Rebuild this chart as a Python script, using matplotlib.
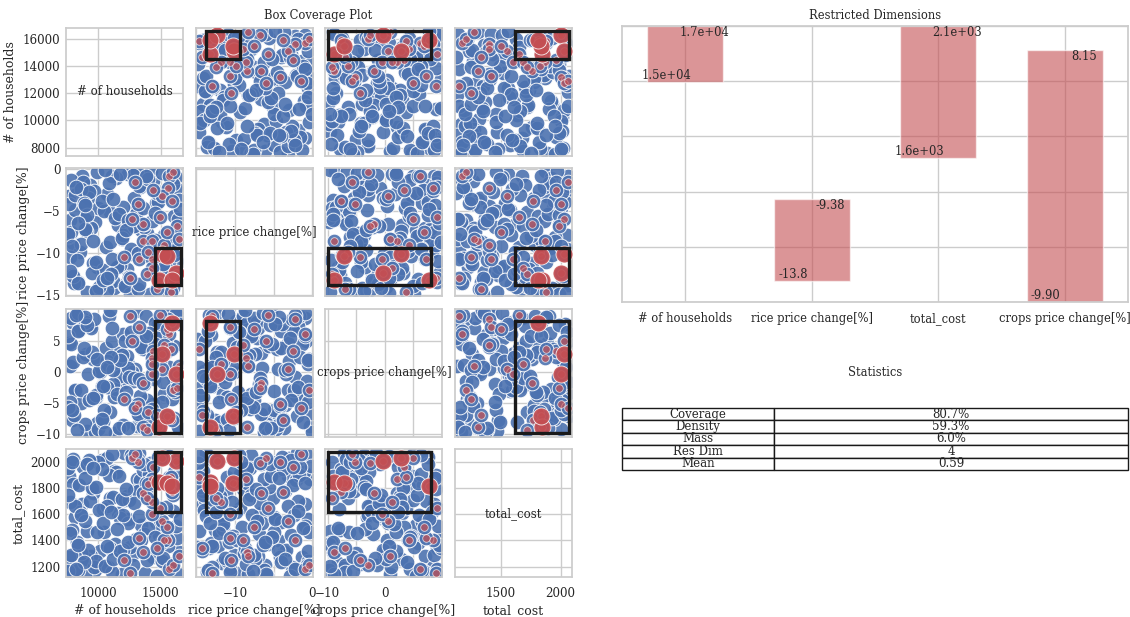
import matplotlib
matplotlib.use("Agg")
import matplotlib.pyplot as plt
import seaborn as sns
import numpy as np
from matplotlib.patches import Rectangle
from matplotlib.gridspec import GridSpec

sns.set_theme(style="whitegrid", palette="deep")
plt.rcParams["font.family"] = ["DejaVu Serif"]
plt.rcParams["font.size"] = 8

# ---------------------------------------------------------------- data
dims = ["# of households", "rice price change[%]",
        "crops price change[%]", "total_cost"]

# cases outside the region of interest
base_households = [
    7620, 9850, 12410, 15230, 8340, 10960, 13780, 16210, 9120, 11590,
    14350, 7980, 10270, 12950, 15810, 8710, 11240, 13460, 16480, 9530,
    12070, 14890, 7750, 10580, 13120, 15560, 8160, 11890, 14120, 9290,
    12680, 16050, 7890, 10730, 13940, 8520, 11410, 15020, 9710, 12260,
    14660, 7560, 10120, 13310, 16330, 8890, 11060, 14470, 9380, 12830,
    15390, 8050, 10840, 13650, 7710, 9960, 12540, 15940, 8430, 11720,
    14230, 9040, 10390, 13020, 16150, 7830, 11150, 14780, 8610, 12370,
    15670, 9620, 10670, 13550, 8260, 11970, 15100, 7940, 10460, 13860,
    9180, 12150, 16390, 8780, 11510, 14550, 7680, 10010, 13240, 15450,
    8950, 12740, 9450, 11320, 14030, 8120, 10800, 13700, 16260, 9790,
    7600, 12010, 15700, 8580, 11080, 14310, 9880, 12460, 7790, 10320,
    13410, 16010, 8380, 11630, 14940, 9250, 10910, 13150, 8820, 12890,
    7700, 9100, 10500, 11900, 13300, 14700, 16100, 8400, 9800, 11200,
    12600, 14000, 15400, 7550, 8950, 10350, 11750, 13150, 14550, 15950,
    8200, 9600, 11000, 12400, 13800, 15200, 16550, 7900, 10700, 12200,
]
base_rice = [
    -3.2, -11.7, -0.6, -7.9, -13.4, -5.1, -9.8, -2.3, -14.6, -6.7,
    -1.4, -8.8, -12.9, -4.4, -10.6, -0.9, -14.1, -7.2, -3.7, -11.2,
    -13.8, -2.8, -6.1, -9.3, -0.3, -12.2, -4.9, -8.3, -14.8, -1.9,
    -10.1, -5.6, -12.6, -3.0, -7.6, -9.9, -1.1, -13.1, -6.3, -11.9,
    -4.1, -8.1, -14.3, -2.1, -10.9, -5.9, -0.8, -12.4, -7.0, -3.5,
    -9.1, -13.6, -1.7, -6.9, -10.4, -4.7, -14.9, -8.6, -2.5, -11.4,
    -0.2, -7.4, -12.0, -5.3, -9.6, -1.3, -13.3, -3.9, -8.9, -6.5,
    -11.0, -2.6, -14.4, -4.6, -10.8, -7.8, -0.5, -12.7, -5.0, -9.0,
    -3.4, -13.9, -6.0, -1.6, -11.6, -8.4, -4.2, -14.0, -2.0, -10.3,
    -7.1, -0.7, -12.3, -5.8, -9.4, -3.1, -13.0, -6.6, -1.0, -11.1,
    -8.0, -4.5, -14.7, -2.4, -10.7, -6.2, -0.4, -12.8, -7.5, -3.8,
    -9.7, -1.8, -13.5, -5.4, -11.5, -2.7, -8.7, -14.2, -4.0, -6.8,
    -12.1, -5.5, -0.1, -8.2, -13.7, -2.9, -10.2, -6.4, -14.5, -3.6,
    -9.5, -1.2, -11.8, -7.7, -4.3, -13.2, -0.6, -10.0, -5.2, -14.1,
    -2.2, -8.5, -12.5, -6.1, -0.9, -11.3, -4.8, -9.2, -13.0, -7.3,
]
base_crops = [
    4.7, -8.2, 1.3, -3.6, 9.1, -6.4, 6.2, -0.9, -9.5, 3.0,
    -5.1, 7.8, -2.2, 0.4, -7.3, 8.6, -4.0, 5.5, -9.0, 2.1,
    -1.6, 6.9, -6.9, 3.8, -8.7, 9.6, -3.1, 0.9, -5.7, 7.3,
    -0.1, 4.2, -7.8, 1.8, -4.6, 8.2, -2.7, 5.9, -9.7, 2.6,
    6.5, -6.0, 0.0, -3.9, 9.3, -8.4, 4.9, -1.2, 7.0, -5.3,
    3.4, -7.0, 8.9, -2.0, 1.0, -9.2, 5.2, -4.3, 6.7, -0.6,
    -6.6, 2.9, -8.0, 9.8, -3.3, 4.4, -1.9, 7.6, -5.0, 0.6,
    -7.5, 8.4, -2.5, 3.6, -9.4, 6.0, -4.8, 1.5, -6.2, 9.0,
    -0.3, 5.0, -8.9, 2.3, -3.5, 7.9, -5.5, 0.2, -7.1, 4.6,
    8.0, -1.4, 3.2, -9.8, 6.3, -2.9, 1.1, -6.7, 9.4, -4.1,
    5.7, -8.5, 0.7, -3.0, 7.1, -5.9, 2.0, -0.8, 8.7, -7.6,
    4.0, -2.4, 6.6, -9.1, 1.7, -4.5, 9.9, -6.3, 3.9, -1.0,
    -4.9, 7.5, -9.6, 2.7, -1.1, 5.4, -7.4, 9.5, -3.7, 0.3,
    6.4, -8.1, 3.1, -5.6, 8.8, -2.3, 1.9, -6.8, 4.5, -0.7,
    9.2, -4.2, 2.4, -9.0, 5.8, -1.7, 7.7, -6.1, 0.8, -3.2,
]
base_cost = [
    1890, 1230, 1560, 2050, 1340, 1720, 1150, 1980, 1470, 1610,
    1270, 1830, 2010, 1400, 1190, 1680, 1930, 1520, 1310, 1760,
    2065, 1440, 1210, 1650, 1870, 1360, 1580, 1140, 1990, 1700,
    1290, 1810, 1480, 2030, 1250, 1620, 1920, 1380, 1170, 1740,
    1540, 1950, 1320, 1860, 1420, 1135, 2060, 1600, 1280, 1780,
    1500, 1160, 1900, 1450, 1690, 2000, 1350, 1220, 1820, 1570,
    1970, 1260, 1640, 1410, 1850, 1180, 1730, 2040, 1300, 1530,
    1880, 1200, 1660, 1940, 1390, 1590, 1240, 2020, 1460, 1790,
    1330, 1710, 1145, 1960, 1490, 1840, 1270, 1630, 2070, 1430,
    1550, 1215, 1800, 1370, 1910, 1665, 1195, 1985, 1510, 1245,
    1750, 1325, 2045, 1595, 1155, 1865, 1465, 1705, 1285, 1945,
    1405, 1625, 1175, 1895, 1525, 2015, 1345, 1775, 1235, 1685,
    1455, 1985, 1205, 1715, 1585, 1130, 1925, 1365, 1805, 1255,
    2055, 1495, 1655, 1165, 1875, 1535, 1315, 2025, 1425, 1745,
    1185, 1955, 1615, 1385, 1835, 1265, 1565, 2000, 1355, 1795,
]

# cases of interest
hit_households = [
    15670, 16020, 15620, 15080, 15940, 14410, 13200, 14920, 13600, 12720,
    13610, 14280, 12050, 13260, 14330, 15290, 14010, 14290, 12500, 16300,
    15500, 13900, 16500, 12900, 15850, 14700,
    16270, 15130, 14880, 15510, 15890,
]
hit_rice = [
    -0.9, -0.4, -2.3, -3.2, -3.8, -2.5, -4.2, -5.7, -6.6, -6.0,
    -8.5, -8.6, -10.5, -10.7, -10.7, -9.0, -9.9, -11.8, -13.0, -6.8,
    -7.5, -12.5, -8.3, -1.5, -14.6, -14.3,
    -12.3, -10.1, -13.2, -10.3, -13.2,
]
hit_crops = [
    6.1, -3.0, 8.4, 0.5, -7.7, 3.3, -5.2, 9.2, -1.8, 5.0,
    -8.8, 2.2, -4.4, 7.2, -0.4, 4.3, -6.5, 1.2, 8.9, -2.6,
    6.8, -9.3, 0.9, -5.8, 3.7, -7.0,
    -0.3, 2.9, -8.9, -7.1, 7.8,
]
hit_cost = [
    1180, 1210, 1400, 1550, 1770, 1960, 2000, 1650, 1760, 2030,
    1310, 1870, 1250, 1420, 1600, 1400, 1830, 1690, 1150, 1990,
    1500, 1720, 1280, 2060, 1880, 1340,
    2005, 2028, 1842, 1840, 1815,
]

# box limits per dimension (lower, upper)
box_lower = [14520, -13.8, -9.9, 1620]
box_upper = [16600, -9.38, 8.15, 2074]

# bar chart: dimension order and normalisation ranges
bar_dims = ["# of households", "rice price change[%]", "total_cost",
            "crops price change[%]"]
bar_lower = [14520, -13.8, 1620, -9.9]
bar_upper = [16600, -9.38, 2074, 8.15]
range_lo = [6350, -14.95, 1124, -9.9]
range_hi = [16600, 0.0, 2074, 9.9]

stat_names = ["Coverage", "Density", "Mass", "Res Dim", "Mean"]
stat_values = ["80.7%", "59.3%", "6.0%", "4", "0.59"]

# ---------------------------------------------------------------- axes setup
limits = [(7400, 16800), (-15.1, 0.05), (-10.4, 10.1), (1120, 2095)]
y_ticks = [[8000, 10000, 12000, 14000, 16000], [-15, -10, -5, 0],
           [-10, -5, 0, 5], [1200, 1400, 1600, 1800, 2000]]
x_major = [[10000, 15000], [-10, 0], [-10, 0], [1500, 2000]]
x_minor = [[], [-15, -5], [-5, 5, 10], []]

blue = "#4C72B0"
red = "#C44E52"
text_col = "#262626"

base = np.array([base_households, base_rice, base_crops, base_cost], float)
hits = np.array([hit_households, hit_rice, hit_crops, hit_cost], float)
lo = np.array(box_lower)[:, None]
hi = np.array(box_upper)[:, None]
in_box = np.all((hits >= lo) & (hits <= hi), axis=0)
allpts = np.concatenate([base, hits], axis=1)

fig = plt.figure(figsize=(11.3, 6.17), dpi=100)
gs = GridSpec(4, 4, figure=fig, left=0.0584, right=0.5062, top=0.9546,
              bottom=0.0648, wspace=0.107, hspace=0.10)

for r in range(4):
    for c in range(4):
        ax = fig.add_subplot(gs[r, c])
        ax.set_xlim(limits[c])
        ax.set_ylim(limits[r])
        ax.set_xticks(x_major[c])
        ax.set_xticks(x_minor[c], minor=True)
        ax.set_yticks(y_ticks[r])
        ax.grid(True, which="both", color=".8", lw=1)
        ax.tick_params(which="both", length=0, labelsize=8.6)
        ax.tick_params(axis="x", pad=7)
        ax.tick_params(axis="y", pad=4)
        for s in ax.spines.values():
            s.set_color(".8")
        if r == c:
            ax.text(0.5, 0.5, dims[r], transform=ax.transAxes,
                    ha="center", va="center", fontsize=8.5, color=text_col)
        else:
            ax.scatter(allpts[c], allpts[r], s=112, color=blue, alpha=0.9,
                       edgecolor=(1, 1, 1, 0.6), linewidth=0.7, zorder=2)
            ax.scatter(hits[c], hits[r], s=30, color=red, alpha=0.7,
                       edgecolor=(1, 1, 1, 0.6), linewidth=0.6, zorder=3)
            ax.scatter(hits[c][in_box], hits[r][in_box], s=150, color=red,
                       alpha=0.92, edgecolor=(1, 1, 1, 0.6), linewidth=0.6,
                       zorder=4)
            ax.add_patch(Rectangle((box_lower[c], box_lower[r]),
                                   box_upper[c] - box_lower[c],
                                   box_upper[r] - box_lower[r],
                                   fill=False, edgecolor="0.1", lw=2.4,
                                   zorder=5))
        if c == 0:
            ax.set_ylabel(dims[r], fontsize=9, labelpad=4, color=text_col)
        else:
            ax.tick_params(axis="y", labelleft=False)
        if r == 3:
            ax.set_xlabel(dims[c], fontsize=9, labelpad=3, color=text_col)
        else:
            ax.tick_params(axis="x", labelbottom=False)

fig.text(318.5 / 1130, 1 - 15 / 617, "Box Coverage Plot", ha="center",
         va="center", fontsize=8.3, color=text_col)

# ---------------------------------------------------------------- bars
axb = fig.add_axes([622 / 1130, 1 - 302 / 617, 506 / 1130, 276 / 617])
xpos = np.arange(len(bar_dims))
lo_n = [(v - a) / (b - a) for v, a, b in zip(bar_lower, range_lo, range_hi)]
hi_n = [(v - a) / (b - a) for v, a, b in zip(bar_upper, range_lo, range_hi)]
axb.bar(xpos, np.array(hi_n) - np.array(lo_n), bottom=lo_n, width=0.6,
        color=red, alpha=0.6, zorder=2)


def fmt(v):
    return f"{v:#.2g}" if abs(v) >= 1000 else f"{v:#.3g}"


for x, vl, vu, nl, nu in zip(xpos, bar_lower, bar_upper, lo_n, hi_n):
    axb.text(x + 0.15, nu, fmt(vu), ha="center", va="top", fontsize=8.3,
             color=text_col, zorder=3)
    axb.text(x - 0.15, nl, fmt(vl), ha="center", va="bottom", fontsize=8.3,
             color=text_col, zorder=3)

axb.set_xlim(-0.5, 3.5)
axb.set_ylim(0, 1)
axb.set_xticks(xpos)
axb.set_xticklabels(bar_dims, fontsize=8.3, color=text_col)
axb.set_yticks([0, 0.2, 0.4, 0.6, 0.8, 1.0])
axb.tick_params(axis="y", labelleft=False, length=0)
axb.tick_params(axis="x", length=0, pad=7)
axb.grid(True, color=".8", lw=1)
for s in axb.spines.values():
    s.set_color(".8")
axb.set_title("Restricted Dimensions", fontsize=8.3, color=text_col, pad=5)

# ---------------------------------------------------------------- table
fig.text(875 / 1130, 1 - 373 / 617, "Statistics", ha="center", va="center",
         fontsize=8.3, color=text_col)
axt = fig.add_axes([622 / 1130, 1 - 470 / 617, 506 / 1130, 62 / 617])
axt.axis("off")
tbl = axt.table(cellText=[[n, v] for n, v in zip(stat_names, stat_values)],
                colWidths=[0.3, 0.7], cellLoc="center", bbox=[0, 0, 1, 1])
tbl.auto_set_font_size(False)
tbl.set_fontsize(8.5)
for cell in tbl.get_celld().values():
    cell.set_edgecolor("0.1")
    cell.set_linewidth(1)
    cell.get_text().set_color(text_col)

fig.savefig("out.png", dpi=100)
